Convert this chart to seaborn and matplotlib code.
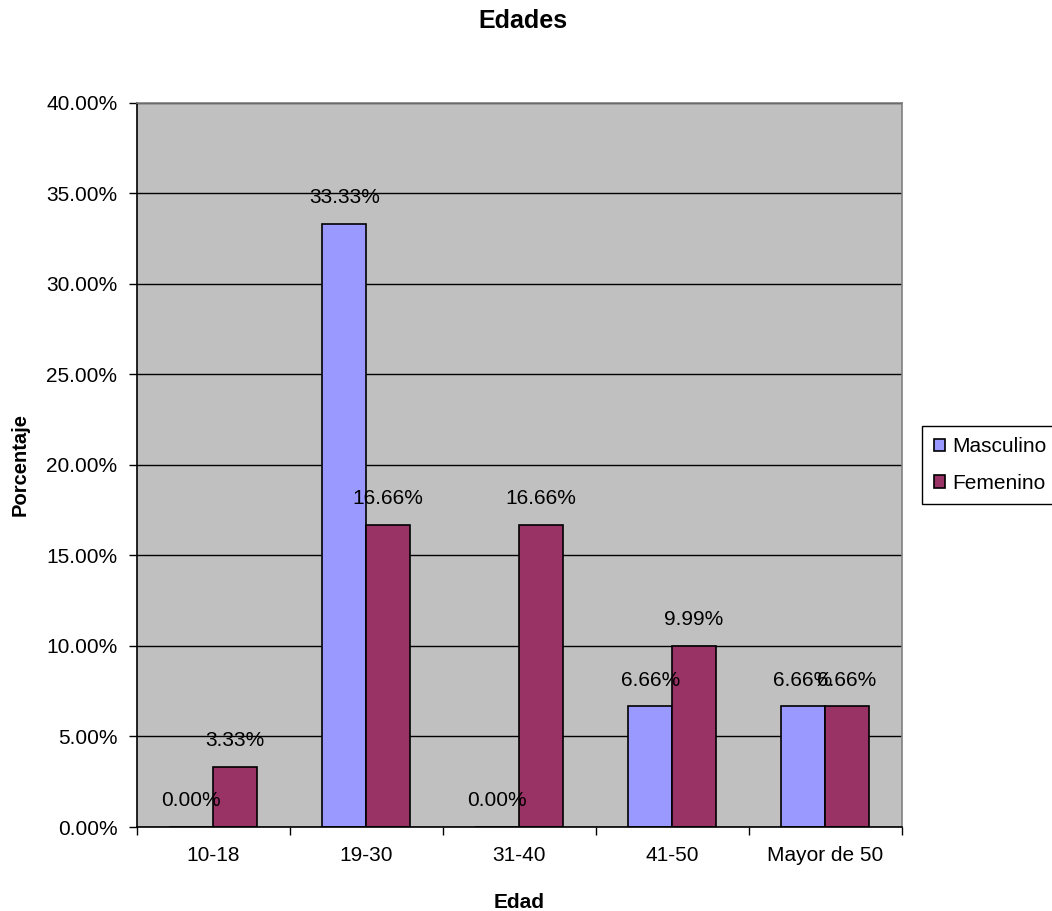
import matplotlib
matplotlib.use("Agg")
import matplotlib.pyplot as plt
import seaborn as sns
import pandas as pd
from matplotlib.ticker import FuncFormatter, MultipleLocator, FixedLocator

# Age groups and percentage per sex
categories = ["10-18", "19-30", "31-40", "41-50", "Mayor de 50"]
masculino = [0.00, 33.33, 0.00, 6.66, 6.66]
femenino = [3.33, 16.66, 16.66, 9.99, 6.66]
series = ["Masculino", "Femenino"]
colors = ["#9999FF", "#993366"]

df = pd.DataFrame({
    "Edad": categories * 2,
    "Porcentaje": masculino + femenino,
    "Sexo": [series[0]] * len(categories) + [series[1]] * len(categories),
})

sns.set_theme(style="white")
plt.rcParams["font.family"] = ["Liberation Sans", "DejaVu Sans"]
plt.rcParams["text.color"] = "black"
plt.rcParams["axes.labelcolor"] = "black"
plt.rcParams["xtick.color"] = "black"
plt.rcParams["ytick.color"] = "black"

fig = plt.figure(figsize=(10.52, 9.11), dpi=100)
ax = fig.add_axes([0.130, 0.0922, 0.727, 0.795])
ax.set_facecolor("#C0C0C0")

sns.barplot(data=df, x="Edad", y="Porcentaje", hue="Sexo", hue_order=series,
            order=categories, palette=colors, saturation=1, width=0.575,
            edgecolor="black", linewidth=1.2, errorbar=None, ax=ax)

ax.set_xlim(-0.5, len(categories) - 0.5)
ax.set_ylim(0, 40)
ax.yaxis.set_major_locator(MultipleLocator(5))
ax.yaxis.set_major_formatter(FuncFormatter(lambda v, p: f"{v:.2f}%"))
ax.yaxis.grid(True, color="black", linewidth=1)
ax.set_axisbelow(True)

# x ticks sit between the categories
ax.xaxis.set_minor_locator(FixedLocator([i - 0.5 for i in range(len(categories) + 1)]))
ax.tick_params(axis="x", which="major", length=0, pad=14, labelsize=15, labelcolor="black")
ax.tick_params(axis="x", which="minor", length=6, width=1, color="black", direction="out", bottom=True)
ax.tick_params(axis="y", which="major", length=6, width=1, color="black", direction="out",
               left=True, pad=8, labelsize=15, labelcolor="black")

for side in ("left", "bottom"):
    ax.spines[side].set_color("black")
    ax.spines[side].set_linewidth(1.2)
for side in ("top", "right"):
    ax.spines[side].set_color("#808080")
    ax.spines[side].set_linewidth(1.2)

# value labels above each bar
for container in ax.containers:
    for bar in container:
        h = bar.get_height()
        ax.annotate(f"{h:.2f}%", (bar.get_x() + bar.get_width() / 2, h),
                    xytext=(0, 19), textcoords="offset points",
                    ha="center", va="center", fontsize=15, color="black")

ax.set_xlabel("Edad", fontsize=15, fontweight="bold", labelpad=20, color="black")
ax.set_ylabel("Porcentaje", fontsize=14.5, fontweight="bold", labelpad=12, color="black")
fig.text(0.497, 0.977, "Edades", fontsize=18, fontweight="bold", ha="center", va="center",
         color="black")

leg = ax.legend(loc="upper left", bbox_to_anchor=(1.027, 0.554), fontsize=15,
                frameon=True, fancybox=False, framealpha=1, edgecolor="black",
                handlelength=0.55, handleheight=0.55, handletextpad=0.35,
                borderpad=0.55, labelspacing=0.85, borderaxespad=0)
leg.get_frame().set_linewidth(1)
for t in leg.get_texts():
    t.set_color("black")

fig.savefig("out.png", dpi=100, facecolor="white")
